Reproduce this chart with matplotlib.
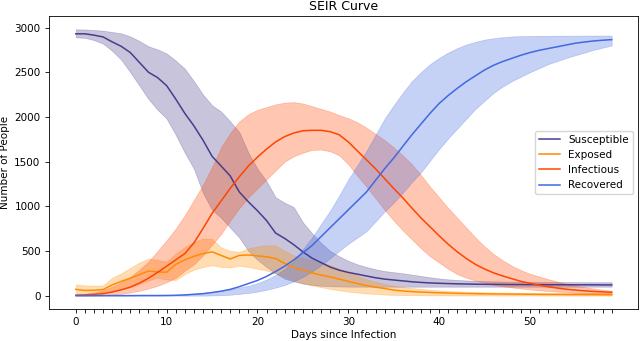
import matplotlib
matplotlib.use("Agg")
import matplotlib.pyplot as plt
import numpy as np

days = list(range(60))

s_mean = [2930, 2930, 2915, 2895, 2840, 2790, 2720, 2610, 2500, 2440,
          2350, 2200, 2040, 1900, 1740, 1560, 1450, 1340, 1160, 1050,
          950, 840, 700, 640, 570, 490, 420, 370, 320, 285,
          260, 240, 220, 200, 185, 175, 165, 155, 148, 142,
          138, 135, 132, 130, 128, 127, 126, 125, 124, 124,
          123, 123, 122, 122, 122, 121, 121, 121, 120, 120]
s_upper = [2980, 2978, 2972, 2965, 2950, 2935, 2900, 2850, 2790, 2755,
           2710, 2630, 2540, 2400, 2250, 2130, 2060, 1950, 1830, 1600,
           1420, 1280, 1100, 1040, 990, 820, 700, 590, 500, 440,
           390, 350, 320, 295, 275, 262, 250, 235, 220, 205,
           192, 182, 175, 170, 165, 162, 160, 158, 156, 155,
           154, 153, 152, 152, 151, 151, 150, 150, 150, 150]
s_lower = [2890, 2885, 2860, 2820, 2740, 2640, 2500, 2350, 2200, 2080,
           1980, 1800, 1600, 1420, 1150, 960, 870, 760, 650, 500,
           400, 320, 250, 190, 160, 135, 120, 110, 105, 102,
           101, 100, 100, 100, 100, 100, 100, 100, 100, 100,
           100, 100, 100, 100, 100, 100, 100, 100, 100, 100,
           100, 100, 100, 100, 100, 100, 100, 100, 100, 100]

e_mean = [70, 58, 60, 68, 120, 160, 195, 235, 275, 265,
          262, 350, 400, 440, 470, 490, 450, 410, 450, 455,
          445, 435, 415, 360, 315, 285, 255, 230, 210, 185,
          160, 135, 113, 95, 80, 62, 52, 45, 40, 36,
          32, 29, 26, 24, 22, 20, 19, 18, 17, 16,
          15, 14, 13, 13, 12, 12, 11, 11, 10, 10]
e_upper = [125, 115, 112, 115, 200, 250, 310, 370, 415, 400,
           380, 470, 545, 600, 640, 635, 540, 500, 490, 530,
           550, 565, 560, 500, 450, 420, 400, 370, 340, 300,
           260, 220, 185, 155, 130, 110, 95, 85, 75, 65,
           58, 52, 47, 43, 40, 37, 35, 34, 33, 32,
           31, 31, 30, 30, 30, 30, 30, 30, 30, 30]
e_lower = [30, 25, 30, 38, 55, 75, 95, 130, 170, 200,
           180, 175, 240, 290, 320, 340, 320, 315, 335, 320,
           300, 280, 250, 210, 170, 140, 115, 95, 75, 60,
           45, 35, 25, 18, 12, 8, 6, 5, 4, 3,
           3, 2, 2, 2, 2, 1, 1, 1, 1, 1,
           1, 1, 0, 0, 0, 0, 0, 0, 0, 0]

i_mean = [5, 8, 14, 22, 40, 65, 95, 140, 195, 260,
          330, 400, 470, 590, 750, 920, 1060, 1200, 1330, 1450,
          1550, 1640, 1720, 1780, 1820, 1845, 1850, 1850, 1835, 1800,
          1720, 1620, 1520, 1420, 1310, 1200, 1095, 980, 870, 770,
          670, 575, 490, 415, 350, 298, 255, 220, 190, 160,
          138, 118, 100, 85, 72, 62, 54, 47, 42, 38]
i_upper = [15, 20, 35, 60, 100, 150, 210, 290, 380, 500,
           620, 750, 900, 1070, 1240, 1440, 1660, 1820, 1950, 2030,
           2080, 2110, 2140, 2160, 2165, 2150, 2120, 2090, 2060, 2020,
           1985, 1940, 1880, 1810, 1740, 1660, 1570, 1470, 1350, 1220,
           1100, 980, 870, 760, 650, 550, 465, 395, 335, 285,
           245, 215, 185, 158, 133, 110, 95, 80, 65, 55]
i_lower = [0, 0, 2, 5, 10, 20, 35, 55, 80, 110,
           150, 200, 280, 350, 450, 570, 690, 840, 980, 1100,
           1200, 1300, 1400, 1500, 1560, 1600, 1630, 1635, 1615, 1570,
           1470, 1340, 1220, 1090, 960, 840, 730, 630, 530, 440,
           370, 300, 240, 200, 170, 145, 120, 105, 92, 80,
           70, 60, 52, 45, 38, 32, 28, 24, 22, 20]

r_mean = [0, 0, 0, 0, 0, 0, 0, 1, 1, 1,
          2, 4, 8, 15, 22, 35, 50, 70, 100, 135,
          170, 215, 270, 330, 400, 480, 560, 660, 760, 860,
          960, 1060, 1160, 1290, 1420, 1540, 1670, 1800, 1920, 2040,
          2150, 2240, 2320, 2395, 2460, 2525, 2578, 2620, 2655, 2690,
          2720, 2745, 2765, 2785, 2805, 2825, 2838, 2850, 2858, 2865]
r_upper = [5, 5, 5, 5, 5, 5, 5, 5, 5, 5,
           5, 8, 12, 20, 30, 40, 55, 70, 90, 110,
           140, 180, 230, 300, 390, 520, 650, 800, 950, 1120,
           1300, 1460, 1620, 1800, 1980, 2130, 2270, 2400, 2500, 2590,
           2660, 2720, 2770, 2810, 2840, 2865, 2880, 2892, 2900, 2904,
           2906, 2907, 2908, 2908, 2909, 2909, 2910, 2910, 2910, 2910]
r_lower = [0, 0, 0, 0, 0, 0, 0, 0, 0, 0,
           0, 0, 0, 0, 0, 2, 5, 10, 20, 30,
           45, 65, 90, 120, 160, 210, 270, 340, 420, 500,
           580, 650, 720, 830, 940, 1040, 1150, 1270, 1380, 1510,
           1640, 1760, 1870, 1980, 2090, 2180, 2270, 2340, 2400, 2450,
           2500, 2545, 2590, 2625, 2660, 2690, 2720, 2750, 2775, 2800]

labels = ["Susceptible", "Exposed", "Infectious", "Recovered"]
colors = ["darkslateblue", "darkorange", "orangered", "royalblue"]
means = [s_mean, e_mean, i_mean, r_mean]
uppers = [s_upper, e_upper, i_upper, r_upper]
lowers = [s_lower, e_lower, i_lower, r_lower]

fig = plt.figure(figsize=(6.4, 3.41), dpi=100)
ax = fig.add_axes([0.0766, 0.094, 0.921, 0.859])

for m, u, l, c, lab in zip(means, uppers, lowers, colors, labels):
    ax.fill_between(days, l, u, color=c, alpha=0.3, linewidth=0.5)
    ax.plot(days, m, color=c, linewidth=1.1, label=lab)

ax.set_xticks(days)
ax.set_xticklabels([str(d) if d % 10 == 0 else "" for d in days])
ax.set_yticks([0, 500, 1000, 1500, 2000, 2500, 3000])
ax.tick_params(labelsize=7.5, length=2.6, width=0.6)
for sp in ax.spines.values():
    sp.set_linewidth(0.6)

ax.set_title("SEIR Curve", fontsize=9, pad=4)
ax.set_xlabel("Days since Infection", fontsize=7.5, labelpad=2)
ax.set_ylabel("Number of People", fontsize=7.5, labelpad=3)
ax.legend(loc="center right", fontsize=7.5, framealpha=0.8, handlelength=2.0)

fig.savefig("out.png", dpi=100)
